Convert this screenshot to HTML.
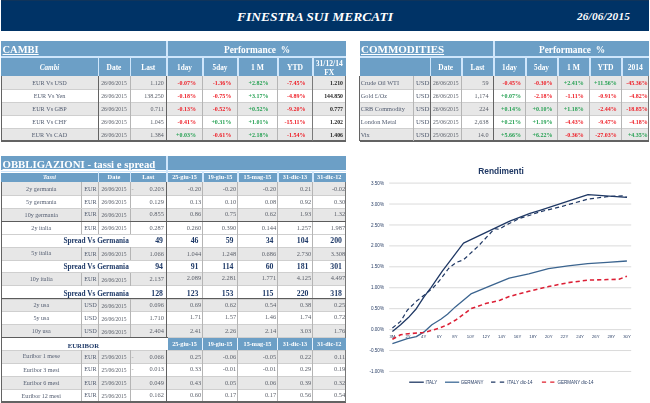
<!DOCTYPE html>
<html><head><meta charset="utf-8"><title>Finestra sui mercati</title>
<style>
html,body{margin:0;padding:0;background:#fff;}
body{width:650px;height:403px;position:relative;overflow:hidden;font-family:'Liberation Serif', serif;}
#p div{position:absolute;}
#p{filter:blur(0.35px);}
#p .t{white-space:nowrap;overflow:visible;}
svg{position:absolute;left:0;top:0;}
</style></head><body><div id="p">
<div style="left:1px;top:0px;width:647.6px;height:31.4px;background:#003366;"></div>
<div style="left:1px;top:0px;width:647.6px;height:1.4px;background:#10345a;"></div>
<div class="t" style="left:232px;top:6.8px;width:166px;height:19px;line-height:19px;font-size:13.5px;color:#fff;text-align:center;font-family:'Liberation Serif', serif;font-weight:bold;font-style:italic;">FINESTRA SUI MERCATI</div>
<div class="t" style="left:570px;top:6.9px;width:67px;height:19px;line-height:19px;font-size:11.3px;color:#fff;text-align:center;font-family:'Liberation Serif', serif;font-weight:bold;font-style:italic;letter-spacing:0.15px;">26/06/2015</div>
<div style="left:1px;top:41px;width:165.5px;height:15px;background:#6c9fc6;"></div>
<div style="left:166px;top:41px;width:1.5px;height:17px;background:#cfe6fb;"></div>
<div style="left:168px;top:41px;width:178px;height:15px;background:#6c9fc6;"></div>
<div style="left:1px;top:56px;width:345px;height:1.7px;background:#cfe6fb;"></div>
<div class="t" style="left:2.5px;top:41.9px;width:163.5px;height:16px;line-height:16px;font-size:10.5px;color:#fff;text-align:left;font-family:'Liberation Serif', serif;font-weight:bold;text-decoration:underline;text-decoration-thickness:0.8px;text-underline-offset:0.6px;">CAMBI</div>
<div class="t" style="left:168px;top:41.8px;width:178px;height:16px;line-height:16px;font-size:9.4px;color:#fff;text-align:center;font-family:'Liberation Serif', serif;font-weight:bold;white-space:pre;">Performance  %</div>
<div style="left:1px;top:57.7px;width:345px;height:18px;background:#6c9fc6;"></div>
<div style="left:97.5px;top:56.7px;width:1.6px;height:20px;background:#cfe6fb;"></div>
<div style="left:129.5px;top:56.7px;width:1.6px;height:20px;background:#cfe6fb;"></div>
<div style="left:166px;top:56.7px;width:1.6px;height:20px;background:#cfe6fb;"></div>
<div style="left:202px;top:56.7px;width:1.6px;height:20px;background:#cfe6fb;"></div>
<div style="left:237px;top:56.7px;width:1.6px;height:20px;background:#cfe6fb;"></div>
<div style="left:277px;top:56.7px;width:1.6px;height:20px;background:#cfe6fb;"></div>
<div style="left:312px;top:56.7px;width:1.6px;height:20px;background:#cfe6fb;"></div>
<div style="left:1px;top:75.7px;width:345px;height:0.6px;background:#cfe6fb;"></div>
<div class="t" style="left:1px;top:58.6px;width:97px;height:18px;line-height:18px;font-size:7.2px;color:#fff;text-align:center;font-family:'Liberation Serif', serif;font-weight:bold;font-style:italic;">Cambi</div>
<div class="t" style="left:98px;top:58.6px;width:32px;height:18px;line-height:18px;font-size:7.4px;color:#fff;text-align:center;font-family:'Liberation Serif', serif;font-weight:bold;">Date</div>
<div class="t" style="left:130px;top:58.6px;width:36.5px;height:18px;line-height:18px;font-size:7.4px;color:#fff;text-align:center;font-family:'Liberation Serif', serif;font-weight:bold;">Last</div>
<div class="t" style="left:166.5px;top:58.6px;width:36px;height:18px;line-height:18px;font-size:7.2px;color:#fff;text-align:center;font-family:'Liberation Serif', serif;font-weight:bold;">1day</div>
<div class="t" style="left:202.5px;top:58.6px;width:35px;height:18px;line-height:18px;font-size:7.2px;color:#fff;text-align:center;font-family:'Liberation Serif', serif;font-weight:bold;">5day</div>
<div class="t" style="left:237.5px;top:58.6px;width:40px;height:18px;line-height:18px;font-size:7.6px;color:#fff;text-align:center;font-family:'Liberation Serif', serif;font-weight:bold;">1 M</div>
<div class="t" style="left:277.5px;top:58.6px;width:35px;height:18px;line-height:18px;font-size:7.6px;color:#fff;text-align:center;font-family:'Liberation Serif', serif;font-weight:bold;">YTD</div>
<div class="t" style="left:312.5px;top:58.9px;width:33.5px;height:18px;line-height:9px;font-size:7.6px;color:#fff;text-align:center;font-family:'Liberation Serif', serif;font-weight:bold;">31/12/14<br>FX</div>
<div style="left:1px;top:76.3px;width:345px;height:12.93px;background:#e7e7e7;"></div>
<div class="t" style="left:1px;top:76.9px;width:97px;height:12.93px;line-height:12.93px;font-size:6.2px;color:#525c70;text-align:center;font-family:'Liberation Serif', serif;">EUR Vs USD</div>
<div class="t" style="left:98px;top:76.8px;width:32px;height:12.93px;line-height:12.93px;font-size:5.6px;color:#5c616b;text-align:center;font-family:'Liberation Serif', serif;">26/06/2015</div>
<div class="t" style="left:130px;top:76.9px;width:36.5px;height:12.93px;line-height:12.93px;font-size:6px;color:#5c616b;text-align:right;font-family:'Liberation Serif', serif;padding-right:2.8px;box-sizing:border-box;">1.120</div>
<div class="t" style="left:166.5px;top:77px;width:36px;height:12.93px;line-height:12.93px;font-size:6px;color:#ee1c25;text-align:right;font-family:'Liberation Serif', serif;font-weight:bold;padding-right:6.6px;box-sizing:border-box;">-0.07%</div>
<div class="t" style="left:202.5px;top:77px;width:35px;height:12.93px;line-height:12.93px;font-size:6px;color:#ee1c25;text-align:right;font-family:'Liberation Serif', serif;font-weight:bold;padding-right:6.2px;box-sizing:border-box;">-1.36%</div>
<div class="t" style="left:237.5px;top:77px;width:40px;height:12.93px;line-height:12.93px;font-size:6px;color:#25a052;text-align:right;font-family:'Liberation Serif', serif;font-weight:bold;padding-right:9.1px;box-sizing:border-box;">+2.82%</div>
<div class="t" style="left:277.5px;top:77px;width:35px;height:12.93px;line-height:12.93px;font-size:6px;color:#ee1c25;text-align:right;font-family:'Liberation Serif', serif;font-weight:bold;padding-right:6.9px;box-sizing:border-box;">-7.45%</div>
<div class="t" style="left:312.5px;top:77px;width:33.5px;height:12.93px;line-height:12.93px;font-size:5.8px;color:#222;text-align:right;font-family:'Liberation Serif', serif;font-weight:bold;padding-right:3px;box-sizing:border-box;">1.210</div>
<div class="t" style="left:1px;top:89.83px;width:97px;height:12.93px;line-height:12.93px;font-size:6.2px;color:#525c70;text-align:center;font-family:'Liberation Serif', serif;">EUR Vs Yen</div>
<div class="t" style="left:98px;top:89.73px;width:32px;height:12.93px;line-height:12.93px;font-size:5.6px;color:#5c616b;text-align:center;font-family:'Liberation Serif', serif;">26/06/2015</div>
<div class="t" style="left:130px;top:89.83px;width:36.5px;height:12.93px;line-height:12.93px;font-size:6px;color:#5c616b;text-align:right;font-family:'Liberation Serif', serif;padding-right:2.8px;box-sizing:border-box;">138.250</div>
<div class="t" style="left:166.5px;top:89.93px;width:36px;height:12.93px;line-height:12.93px;font-size:6px;color:#ee1c25;text-align:right;font-family:'Liberation Serif', serif;font-weight:bold;padding-right:6.6px;box-sizing:border-box;">-0.18%</div>
<div class="t" style="left:202.5px;top:89.93px;width:35px;height:12.93px;line-height:12.93px;font-size:6px;color:#ee1c25;text-align:right;font-family:'Liberation Serif', serif;font-weight:bold;padding-right:6.2px;box-sizing:border-box;">-0.75%</div>
<div class="t" style="left:237.5px;top:89.93px;width:40px;height:12.93px;line-height:12.93px;font-size:6px;color:#25a052;text-align:right;font-family:'Liberation Serif', serif;font-weight:bold;padding-right:9.1px;box-sizing:border-box;">+3.17%</div>
<div class="t" style="left:277.5px;top:89.93px;width:35px;height:12.93px;line-height:12.93px;font-size:6px;color:#ee1c25;text-align:right;font-family:'Liberation Serif', serif;font-weight:bold;padding-right:6.9px;box-sizing:border-box;">-4.89%</div>
<div class="t" style="left:312.5px;top:89.93px;width:33.5px;height:12.93px;line-height:12.93px;font-size:5.8px;color:#222;text-align:right;font-family:'Liberation Serif', serif;font-weight:bold;padding-right:3px;box-sizing:border-box;">144.850</div>
<div style="left:1px;top:102.16px;width:345px;height:12.93px;background:#e7e7e7;"></div>
<div class="t" style="left:1px;top:102.76px;width:97px;height:12.93px;line-height:12.93px;font-size:6.2px;color:#525c70;text-align:center;font-family:'Liberation Serif', serif;">EUR Vs GBP</div>
<div class="t" style="left:98px;top:102.66px;width:32px;height:12.93px;line-height:12.93px;font-size:5.6px;color:#5c616b;text-align:center;font-family:'Liberation Serif', serif;">26/06/2015</div>
<div class="t" style="left:130px;top:102.76px;width:36.5px;height:12.93px;line-height:12.93px;font-size:6px;color:#5c616b;text-align:right;font-family:'Liberation Serif', serif;padding-right:2.8px;box-sizing:border-box;">0.711</div>
<div class="t" style="left:166.5px;top:102.86px;width:36px;height:12.93px;line-height:12.93px;font-size:6px;color:#ee1c25;text-align:right;font-family:'Liberation Serif', serif;font-weight:bold;padding-right:6.6px;box-sizing:border-box;">-0.13%</div>
<div class="t" style="left:202.5px;top:102.86px;width:35px;height:12.93px;line-height:12.93px;font-size:6px;color:#ee1c25;text-align:right;font-family:'Liberation Serif', serif;font-weight:bold;padding-right:6.2px;box-sizing:border-box;">-0.52%</div>
<div class="t" style="left:237.5px;top:102.86px;width:40px;height:12.93px;line-height:12.93px;font-size:6px;color:#25a052;text-align:right;font-family:'Liberation Serif', serif;font-weight:bold;padding-right:9.1px;box-sizing:border-box;">+0.52%</div>
<div class="t" style="left:277.5px;top:102.86px;width:35px;height:12.93px;line-height:12.93px;font-size:6px;color:#ee1c25;text-align:right;font-family:'Liberation Serif', serif;font-weight:bold;padding-right:6.9px;box-sizing:border-box;">-9.20%</div>
<div class="t" style="left:312.5px;top:102.86px;width:33.5px;height:12.93px;line-height:12.93px;font-size:5.8px;color:#222;text-align:right;font-family:'Liberation Serif', serif;font-weight:bold;padding-right:3px;box-sizing:border-box;">0.777</div>
<div class="t" style="left:1px;top:115.69px;width:97px;height:12.93px;line-height:12.93px;font-size:6.2px;color:#525c70;text-align:center;font-family:'Liberation Serif', serif;">EUR Vs CHF</div>
<div class="t" style="left:98px;top:115.59px;width:32px;height:12.93px;line-height:12.93px;font-size:5.6px;color:#5c616b;text-align:center;font-family:'Liberation Serif', serif;">26/06/2015</div>
<div class="t" style="left:130px;top:115.69px;width:36.5px;height:12.93px;line-height:12.93px;font-size:6px;color:#5c616b;text-align:right;font-family:'Liberation Serif', serif;padding-right:2.8px;box-sizing:border-box;">1.045</div>
<div class="t" style="left:166.5px;top:115.79px;width:36px;height:12.93px;line-height:12.93px;font-size:6px;color:#ee1c25;text-align:right;font-family:'Liberation Serif', serif;font-weight:bold;padding-right:6.6px;box-sizing:border-box;">-0.41%</div>
<div class="t" style="left:202.5px;top:115.79px;width:35px;height:12.93px;line-height:12.93px;font-size:6px;color:#25a052;text-align:right;font-family:'Liberation Serif', serif;font-weight:bold;padding-right:6.2px;box-sizing:border-box;">+0.31%</div>
<div class="t" style="left:237.5px;top:115.79px;width:40px;height:12.93px;line-height:12.93px;font-size:6px;color:#25a052;text-align:right;font-family:'Liberation Serif', serif;font-weight:bold;padding-right:9.1px;box-sizing:border-box;">+1.01%</div>
<div class="t" style="left:277.5px;top:115.79px;width:35px;height:12.93px;line-height:12.93px;font-size:6px;color:#ee1c25;text-align:right;font-family:'Liberation Serif', serif;font-weight:bold;padding-right:6.9px;box-sizing:border-box;">-15.11%</div>
<div class="t" style="left:312.5px;top:115.79px;width:33.5px;height:12.93px;line-height:12.93px;font-size:5.8px;color:#222;text-align:right;font-family:'Liberation Serif', serif;font-weight:bold;padding-right:3px;box-sizing:border-box;">1.202</div>
<div style="left:1px;top:128.02px;width:345px;height:12.93px;background:#e7e7e7;"></div>
<div class="t" style="left:1px;top:128.62px;width:97px;height:12.93px;line-height:12.93px;font-size:6.2px;color:#525c70;text-align:center;font-family:'Liberation Serif', serif;">EUR Vs CAD</div>
<div class="t" style="left:98px;top:128.52px;width:32px;height:12.93px;line-height:12.93px;font-size:5.6px;color:#5c616b;text-align:center;font-family:'Liberation Serif', serif;">26/06/2015</div>
<div class="t" style="left:130px;top:128.62px;width:36.5px;height:12.93px;line-height:12.93px;font-size:6px;color:#5c616b;text-align:right;font-family:'Liberation Serif', serif;padding-right:2.8px;box-sizing:border-box;">1.384</div>
<div class="t" style="left:166.5px;top:128.72px;width:36px;height:12.93px;line-height:12.93px;font-size:6px;color:#25a052;text-align:right;font-family:'Liberation Serif', serif;font-weight:bold;padding-right:6.6px;box-sizing:border-box;">+0.03%</div>
<div class="t" style="left:202.5px;top:128.72px;width:35px;height:12.93px;line-height:12.93px;font-size:6px;color:#ee1c25;text-align:right;font-family:'Liberation Serif', serif;font-weight:bold;padding-right:6.2px;box-sizing:border-box;">-0.61%</div>
<div class="t" style="left:237.5px;top:128.72px;width:40px;height:12.93px;line-height:12.93px;font-size:6px;color:#25a052;text-align:right;font-family:'Liberation Serif', serif;font-weight:bold;padding-right:9.1px;box-sizing:border-box;">+2.18%</div>
<div class="t" style="left:277.5px;top:128.72px;width:35px;height:12.93px;line-height:12.93px;font-size:6px;color:#ee1c25;text-align:right;font-family:'Liberation Serif', serif;font-weight:bold;padding-right:6.9px;box-sizing:border-box;">-1.54%</div>
<div class="t" style="left:312.5px;top:128.72px;width:33.5px;height:12.93px;line-height:12.93px;font-size:5.8px;color:#222;text-align:right;font-family:'Liberation Serif', serif;font-weight:bold;padding-right:3px;box-sizing:border-box;">1.406</div>
<div style="left:1px;top:88.83px;width:345px;height:0.8px;background:#cfcfcf;"></div>
<div style="left:1px;top:101.76px;width:345px;height:0.8px;background:#cfcfcf;"></div>
<div style="left:1px;top:114.69px;width:345px;height:0.8px;background:#cfcfcf;"></div>
<div style="left:1px;top:127.62px;width:345px;height:0.8px;background:#cfcfcf;"></div>
<div style="left:97.8px;top:76.3px;width:1.2px;height:64.65px;background:#636363;"></div>
<div style="left:129.5px;top:76.3px;width:0.8px;height:64.65px;background:#b5b5b5;"></div>
<div style="left:166.3px;top:76.3px;width:1.2px;height:64.65px;background:#636363;"></div>
<div style="left:202px;top:76.3px;width:0.8px;height:64.65px;background:#b5b5b5;"></div>
<div style="left:237px;top:76.3px;width:0.8px;height:64.65px;background:#b5b5b5;"></div>
<div style="left:277px;top:76.3px;width:0.8px;height:64.65px;background:#b5b5b5;"></div>
<div style="left:312px;top:76.3px;width:0.8px;height:64.65px;background:#b5b5b5;"></div>
<div style="left:0.6px;top:76.3px;width:1.3px;height:64.65px;background:#636363;"></div>
<div style="left:345.2px;top:76.3px;width:1px;height:64.65px;background:#777;"></div>
<div style="left:1px;top:140.35px;width:345px;height:1.2px;background:#636363;"></div>
<div style="left:312.4px;top:76.3px;width:1px;height:64.65px;background:#7a7a7a;"></div>
<div style="left:359.5px;top:41px;width:134px;height:15px;background:#6c9fc6;"></div>
<div style="left:493px;top:41px;width:1.5px;height:17px;background:#cfe6fb;"></div>
<div style="left:495px;top:41px;width:154px;height:15px;background:#6c9fc6;"></div>
<div style="left:359.5px;top:56px;width:289.5px;height:1.7px;background:#cfe6fb;"></div>
<div class="t" style="left:361px;top:41.2px;width:132px;height:16px;line-height:16px;font-size:11px;color:#fff;text-align:left;font-family:'Liberation Serif', serif;font-weight:bold;text-decoration:underline;text-decoration-thickness:0.8px;text-underline-offset:0.6px;">COMMODITIES</div>
<div class="t" style="left:495px;top:41.8px;width:154px;height:16px;line-height:16px;font-size:9.4px;color:#fff;text-align:center;font-family:'Liberation Serif', serif;font-weight:bold;white-space:pre;">Performance  %</div>
<div style="left:359.5px;top:57.7px;width:289.5px;height:18px;background:#6c9fc6;"></div>
<div style="left:429.5px;top:56.7px;width:1.6px;height:20px;background:#cfe6fb;"></div>
<div style="left:461px;top:56.7px;width:1.6px;height:20px;background:#cfe6fb;"></div>
<div style="left:493px;top:56.7px;width:1.6px;height:20px;background:#cfe6fb;"></div>
<div style="left:525px;top:56.7px;width:1.6px;height:20px;background:#cfe6fb;"></div>
<div style="left:557px;top:56.7px;width:1.6px;height:20px;background:#cfe6fb;"></div>
<div style="left:589px;top:56.7px;width:1.6px;height:20px;background:#cfe6fb;"></div>
<div style="left:621px;top:56.7px;width:1.6px;height:20px;background:#cfe6fb;"></div>
<div style="left:359.5px;top:75.7px;width:289.5px;height:0.6px;background:#cfe6fb;"></div>
<div class="t" style="left:430px;top:58.6px;width:31.5px;height:18px;line-height:18px;font-size:7.4px;color:#fff;text-align:center;font-family:'Liberation Serif', serif;font-weight:bold;">Date</div>
<div class="t" style="left:461.5px;top:58.6px;width:32px;height:18px;line-height:18px;font-size:7.4px;color:#fff;text-align:center;font-family:'Liberation Serif', serif;font-weight:bold;">Last</div>
<div class="t" style="left:493.5px;top:58.6px;width:32px;height:18px;line-height:18px;font-size:7.2px;color:#fff;text-align:center;font-family:'Liberation Serif', serif;font-weight:bold;">1day</div>
<div class="t" style="left:525.5px;top:58.6px;width:32px;height:18px;line-height:18px;font-size:7.2px;color:#fff;text-align:center;font-family:'Liberation Serif', serif;font-weight:bold;">5day</div>
<div class="t" style="left:557.5px;top:58.6px;width:32px;height:18px;line-height:18px;font-size:7.6px;color:#fff;text-align:center;font-family:'Liberation Serif', serif;font-weight:bold;">1 M</div>
<div class="t" style="left:589.5px;top:58.6px;width:32px;height:18px;line-height:18px;font-size:7.6px;color:#fff;text-align:center;font-family:'Liberation Serif', serif;font-weight:bold;">YTD</div>
<div class="t" style="left:621.5px;top:58.6px;width:27.5px;height:18px;line-height:18px;font-size:7.6px;color:#fff;text-align:center;font-family:'Liberation Serif', serif;font-weight:bold;">2014</div>
<div style="left:359.5px;top:76.3px;width:289.5px;height:12.93px;background:#e7e7e7;"></div>
<div class="t" style="left:359.5px;top:77.1px;width:53px;height:12.93px;line-height:12.93px;font-size:6.3px;color:#525c70;text-align:left;font-family:'Liberation Serif', serif;padding-left:1.2px;box-sizing:border-box;">Crude Oil WTI</div>
<div class="t" style="left:412.5px;top:77px;width:17.5px;height:12.93px;line-height:12.93px;font-size:6.8px;color:#525c70;text-align:right;font-family:'Liberation Serif', serif;padding-right:0.5px;box-sizing:border-box;">USD</div>
<div class="t" style="left:430px;top:76.8px;width:31.5px;height:12.93px;line-height:12.93px;font-size:5.6px;color:#5c616b;text-align:center;font-family:'Liberation Serif', serif;">26/06/2015</div>
<div class="t" style="left:461.5px;top:76.9px;width:32px;height:12.93px;line-height:12.93px;font-size:6.2px;color:#5c616b;text-align:right;font-family:'Liberation Serif', serif;padding-right:5px;box-sizing:border-box;">59</div>
<div class="t" style="left:493.5px;top:77px;width:32px;height:12.93px;line-height:12.93px;font-size:6px;color:#ee1c25;text-align:right;font-family:'Liberation Serif', serif;font-weight:bold;padding-right:4.6px;box-sizing:border-box;">-0.45%</div>
<div class="t" style="left:525.5px;top:77px;width:32px;height:12.93px;line-height:12.93px;font-size:6px;color:#ee1c25;text-align:right;font-family:'Liberation Serif', serif;font-weight:bold;padding-right:5.1px;box-sizing:border-box;">-0.30%</div>
<div class="t" style="left:557.5px;top:77px;width:32px;height:12.93px;line-height:12.93px;font-size:6px;color:#25a052;text-align:right;font-family:'Liberation Serif', serif;font-weight:bold;padding-right:5.8px;box-sizing:border-box;">+2.41%</div>
<div class="t" style="left:589.5px;top:77px;width:32px;height:12.93px;line-height:12.93px;font-size:6px;color:#25a052;text-align:right;font-family:'Liberation Serif', serif;font-weight:bold;padding-right:4.8px;box-sizing:border-box;">+11.56%</div>
<div class="t" style="left:621.5px;top:77px;width:27.5px;height:12.93px;line-height:12.93px;font-size:6px;color:#ee1c25;text-align:right;font-family:'Liberation Serif', serif;font-weight:bold;padding-right:1.2px;box-sizing:border-box;">-45.36%</div>
<div class="t" style="left:359.5px;top:90.03px;width:53px;height:12.93px;line-height:12.93px;font-size:6.3px;color:#525c70;text-align:left;font-family:'Liberation Serif', serif;padding-left:1.2px;box-sizing:border-box;">Gold £/Oz</div>
<div class="t" style="left:412.5px;top:89.93px;width:17.5px;height:12.93px;line-height:12.93px;font-size:6.8px;color:#525c70;text-align:right;font-family:'Liberation Serif', serif;padding-right:0.5px;box-sizing:border-box;">USD</div>
<div class="t" style="left:430px;top:89.73px;width:31.5px;height:12.93px;line-height:12.93px;font-size:5.6px;color:#5c616b;text-align:center;font-family:'Liberation Serif', serif;">26/06/2015</div>
<div class="t" style="left:461.5px;top:89.83px;width:32px;height:12.93px;line-height:12.93px;font-size:6.2px;color:#5c616b;text-align:right;font-family:'Liberation Serif', serif;padding-right:5px;box-sizing:border-box;">1,174</div>
<div class="t" style="left:493.5px;top:89.93px;width:32px;height:12.93px;line-height:12.93px;font-size:6px;color:#25a052;text-align:right;font-family:'Liberation Serif', serif;font-weight:bold;padding-right:4.6px;box-sizing:border-box;">+0.07%</div>
<div class="t" style="left:525.5px;top:89.93px;width:32px;height:12.93px;line-height:12.93px;font-size:6px;color:#ee1c25;text-align:right;font-family:'Liberation Serif', serif;font-weight:bold;padding-right:5.1px;box-sizing:border-box;">-2.18%</div>
<div class="t" style="left:557.5px;top:89.93px;width:32px;height:12.93px;line-height:12.93px;font-size:6px;color:#ee1c25;text-align:right;font-family:'Liberation Serif', serif;font-weight:bold;padding-right:5.8px;box-sizing:border-box;">-1.11%</div>
<div class="t" style="left:589.5px;top:89.93px;width:32px;height:12.93px;line-height:12.93px;font-size:6px;color:#ee1c25;text-align:right;font-family:'Liberation Serif', serif;font-weight:bold;padding-right:4.8px;box-sizing:border-box;">-0.91%</div>
<div class="t" style="left:621.5px;top:89.93px;width:27.5px;height:12.93px;line-height:12.93px;font-size:6px;color:#ee1c25;text-align:right;font-family:'Liberation Serif', serif;font-weight:bold;padding-right:1.2px;box-sizing:border-box;">-4.82%</div>
<div style="left:359.5px;top:102.16px;width:289.5px;height:12.93px;background:#e7e7e7;"></div>
<div class="t" style="left:359.5px;top:102.96px;width:53px;height:12.93px;line-height:12.93px;font-size:6.3px;color:#525c70;text-align:left;font-family:'Liberation Serif', serif;padding-left:1.2px;box-sizing:border-box;">CRB Commodity</div>
<div class="t" style="left:412.5px;top:102.86px;width:17.5px;height:12.93px;line-height:12.93px;font-size:6.8px;color:#525c70;text-align:right;font-family:'Liberation Serif', serif;padding-right:0.5px;box-sizing:border-box;">USD</div>
<div class="t" style="left:430px;top:102.66px;width:31.5px;height:12.93px;line-height:12.93px;font-size:5.6px;color:#5c616b;text-align:center;font-family:'Liberation Serif', serif;">26/06/2015</div>
<div class="t" style="left:461.5px;top:102.76px;width:32px;height:12.93px;line-height:12.93px;font-size:6.2px;color:#5c616b;text-align:right;font-family:'Liberation Serif', serif;padding-right:5px;box-sizing:border-box;">224</div>
<div class="t" style="left:493.5px;top:102.86px;width:32px;height:12.93px;line-height:12.93px;font-size:6px;color:#25a052;text-align:right;font-family:'Liberation Serif', serif;font-weight:bold;padding-right:4.6px;box-sizing:border-box;">+0.14%</div>
<div class="t" style="left:525.5px;top:102.86px;width:32px;height:12.93px;line-height:12.93px;font-size:6px;color:#25a052;text-align:right;font-family:'Liberation Serif', serif;font-weight:bold;padding-right:5.1px;box-sizing:border-box;">+0.10%</div>
<div class="t" style="left:557.5px;top:102.86px;width:32px;height:12.93px;line-height:12.93px;font-size:6px;color:#25a052;text-align:right;font-family:'Liberation Serif', serif;font-weight:bold;padding-right:5.8px;box-sizing:border-box;">+1.18%</div>
<div class="t" style="left:589.5px;top:102.86px;width:32px;height:12.93px;line-height:12.93px;font-size:6px;color:#ee1c25;text-align:right;font-family:'Liberation Serif', serif;font-weight:bold;padding-right:4.8px;box-sizing:border-box;">-2.44%</div>
<div class="t" style="left:621.5px;top:102.86px;width:27.5px;height:12.93px;line-height:12.93px;font-size:6px;color:#ee1c25;text-align:right;font-family:'Liberation Serif', serif;font-weight:bold;padding-right:1.2px;box-sizing:border-box;">-18.85%</div>
<div class="t" style="left:359.5px;top:115.89px;width:53px;height:12.93px;line-height:12.93px;font-size:6.3px;color:#525c70;text-align:left;font-family:'Liberation Serif', serif;padding-left:1.2px;box-sizing:border-box;">London Metal</div>
<div class="t" style="left:412.5px;top:115.79px;width:17.5px;height:12.93px;line-height:12.93px;font-size:6.8px;color:#525c70;text-align:right;font-family:'Liberation Serif', serif;padding-right:0.5px;box-sizing:border-box;">USD</div>
<div class="t" style="left:430px;top:115.59px;width:31.5px;height:12.93px;line-height:12.93px;font-size:5.6px;color:#5c616b;text-align:center;font-family:'Liberation Serif', serif;">25/06/2015</div>
<div class="t" style="left:461.5px;top:115.69px;width:32px;height:12.93px;line-height:12.93px;font-size:6.2px;color:#5c616b;text-align:right;font-family:'Liberation Serif', serif;padding-right:5px;box-sizing:border-box;">2,638</div>
<div class="t" style="left:493.5px;top:115.79px;width:32px;height:12.93px;line-height:12.93px;font-size:6px;color:#25a052;text-align:right;font-family:'Liberation Serif', serif;font-weight:bold;padding-right:4.6px;box-sizing:border-box;">+0.21%</div>
<div class="t" style="left:525.5px;top:115.79px;width:32px;height:12.93px;line-height:12.93px;font-size:6px;color:#25a052;text-align:right;font-family:'Liberation Serif', serif;font-weight:bold;padding-right:5.1px;box-sizing:border-box;">+1.19%</div>
<div class="t" style="left:557.5px;top:115.79px;width:32px;height:12.93px;line-height:12.93px;font-size:6px;color:#ee1c25;text-align:right;font-family:'Liberation Serif', serif;font-weight:bold;padding-right:5.8px;box-sizing:border-box;">-4.43%</div>
<div class="t" style="left:589.5px;top:115.79px;width:32px;height:12.93px;line-height:12.93px;font-size:6px;color:#ee1c25;text-align:right;font-family:'Liberation Serif', serif;font-weight:bold;padding-right:4.8px;box-sizing:border-box;">-9.47%</div>
<div class="t" style="left:621.5px;top:115.79px;width:27.5px;height:12.93px;line-height:12.93px;font-size:6px;color:#ee1c25;text-align:right;font-family:'Liberation Serif', serif;font-weight:bold;padding-right:1.2px;box-sizing:border-box;">-4.18%</div>
<div style="left:359.5px;top:128.02px;width:289.5px;height:12.93px;background:#e7e7e7;"></div>
<div class="t" style="left:359.5px;top:128.82px;width:53px;height:12.93px;line-height:12.93px;font-size:6.3px;color:#525c70;text-align:left;font-family:'Liberation Serif', serif;padding-left:1.2px;box-sizing:border-box;">Vix</div>
<div class="t" style="left:412.5px;top:128.72px;width:17.5px;height:12.93px;line-height:12.93px;font-size:6.8px;color:#525c70;text-align:right;font-family:'Liberation Serif', serif;padding-right:0.5px;box-sizing:border-box;">USD</div>
<div class="t" style="left:430px;top:128.52px;width:31.5px;height:12.93px;line-height:12.93px;font-size:5.6px;color:#5c616b;text-align:center;font-family:'Liberation Serif', serif;">25/06/2015</div>
<div class="t" style="left:461.5px;top:128.62px;width:32px;height:12.93px;line-height:12.93px;font-size:6.2px;color:#5c616b;text-align:right;font-family:'Liberation Serif', serif;padding-right:5px;box-sizing:border-box;">14.0</div>
<div class="t" style="left:493.5px;top:128.72px;width:32px;height:12.93px;line-height:12.93px;font-size:6px;color:#25a052;text-align:right;font-family:'Liberation Serif', serif;font-weight:bold;padding-right:4.6px;box-sizing:border-box;">+5.66%</div>
<div class="t" style="left:525.5px;top:128.72px;width:32px;height:12.93px;line-height:12.93px;font-size:6px;color:#25a052;text-align:right;font-family:'Liberation Serif', serif;font-weight:bold;padding-right:5.1px;box-sizing:border-box;">+6.22%</div>
<div class="t" style="left:557.5px;top:128.72px;width:32px;height:12.93px;line-height:12.93px;font-size:6px;color:#ee1c25;text-align:right;font-family:'Liberation Serif', serif;font-weight:bold;padding-right:5.8px;box-sizing:border-box;">-0.36%</div>
<div class="t" style="left:589.5px;top:128.72px;width:32px;height:12.93px;line-height:12.93px;font-size:6px;color:#ee1c25;text-align:right;font-family:'Liberation Serif', serif;font-weight:bold;padding-right:4.8px;box-sizing:border-box;">-27.03%</div>
<div class="t" style="left:621.5px;top:128.72px;width:27.5px;height:12.93px;line-height:12.93px;font-size:6px;color:#25a052;text-align:right;font-family:'Liberation Serif', serif;font-weight:bold;padding-right:1.2px;box-sizing:border-box;">+4.35%</div>
<div style="left:359.5px;top:88.83px;width:289.5px;height:0.8px;background:#cfcfcf;"></div>
<div style="left:359.5px;top:101.76px;width:289.5px;height:0.8px;background:#cfcfcf;"></div>
<div style="left:359.5px;top:114.69px;width:289.5px;height:0.8px;background:#cfcfcf;"></div>
<div style="left:359.5px;top:127.62px;width:289.5px;height:0.8px;background:#cfcfcf;"></div>
<div style="left:429.8px;top:76.3px;width:1.2px;height:64.65px;background:#636363;"></div>
<div style="left:461px;top:76.3px;width:0.8px;height:64.65px;background:#b5b5b5;"></div>
<div style="left:493.3px;top:76.3px;width:1.2px;height:64.65px;background:#636363;"></div>
<div style="left:525px;top:76.3px;width:0.8px;height:64.65px;background:#b5b5b5;"></div>
<div style="left:557px;top:76.3px;width:0.8px;height:64.65px;background:#b5b5b5;"></div>
<div style="left:589px;top:76.3px;width:0.8px;height:64.65px;background:#b5b5b5;"></div>
<div style="left:621px;top:76.3px;width:0.8px;height:64.65px;background:#b5b5b5;"></div>
<div style="left:359.1px;top:76.3px;width:1.3px;height:64.65px;background:#636363;"></div>
<div style="left:648.2px;top:76.3px;width:1px;height:64.65px;background:#777;"></div>
<div style="left:359.5px;top:140.35px;width:289.5px;height:1.2px;background:#636363;"></div>
<div style="left:412.5px;top:76.3px;width:0.8px;height:64.65px;background:#b5b5b5;"></div>
<div style="left:1px;top:156.2px;width:165.5px;height:14.3px;background:#6c9fc6;"></div>
<div style="left:166px;top:156.2px;width:1.5px;height:16.3px;background:#cfe6fb;"></div>
<div style="left:168px;top:156.2px;width:178px;height:14.3px;background:#6c9fc6;"></div>
<div style="left:1px;top:170.5px;width:345px;height:1.7px;background:#cfe6fb;"></div>
<div class="t" style="left:2.5px;top:157.1px;width:163.5px;height:15.3px;line-height:15.3px;font-size:10.8px;color:#fff;text-align:left;font-family:'Liberation Serif', serif;font-weight:bold;text-decoration:underline;text-decoration-thickness:0.8px;text-underline-offset:0.6px;">OBBLIGAZIONI - tassi e spread</div>
<div style="left:1px;top:172.5px;width:345px;height:9.6px;background:#6c9fc6;"></div>
<div style="left:97.5px;top:171.5px;width:1.6px;height:11.6px;background:#cfe6fb;"></div>
<div style="left:129.5px;top:171.5px;width:1.6px;height:11.6px;background:#cfe6fb;"></div>
<div style="left:166px;top:171.5px;width:1.6px;height:11.6px;background:#cfe6fb;"></div>
<div style="left:202px;top:171.5px;width:1.6px;height:11.6px;background:#cfe6fb;"></div>
<div style="left:237px;top:171.5px;width:1.6px;height:11.6px;background:#cfe6fb;"></div>
<div style="left:277px;top:171.5px;width:1.6px;height:11.6px;background:#cfe6fb;"></div>
<div style="left:312px;top:171.5px;width:1.6px;height:11.6px;background:#cfe6fb;"></div>
<div style="left:1px;top:182.1px;width:345px;height:0.6px;background:#cfe6fb;"></div>
<div class="t" style="left:1px;top:171.7px;width:97px;height:9.6px;line-height:9.6px;font-size:6.2px;color:#fff;text-align:center;font-family:'Liberation Serif', serif;font-weight:bold;font-style:italic;">Tassi</div>
<div class="t" style="left:98px;top:171.7px;width:32px;height:9.6px;line-height:9.6px;font-size:6.4px;color:#fff;text-align:center;font-family:'Liberation Serif', serif;font-weight:bold;">Date</div>
<div class="t" style="left:130px;top:171.7px;width:36.5px;height:9.6px;line-height:9.6px;font-size:6.4px;color:#fff;text-align:center;font-family:'Liberation Serif', serif;font-weight:bold;">Last</div>
<div class="t" style="left:166.5px;top:171.7px;width:36px;height:9.6px;line-height:9.6px;font-size:6.2px;color:#fff;text-align:center;font-family:'Liberation Serif', serif;font-weight:bold;">25-giu-15</div>
<div class="t" style="left:202.5px;top:171.7px;width:35px;height:9.6px;line-height:9.6px;font-size:6.2px;color:#fff;text-align:center;font-family:'Liberation Serif', serif;font-weight:bold;">19-giu-15</div>
<div class="t" style="left:237.5px;top:171.7px;width:40px;height:9.6px;line-height:9.6px;font-size:6.2px;color:#fff;text-align:center;font-family:'Liberation Serif', serif;font-weight:bold;">15-mag-15</div>
<div class="t" style="left:277.5px;top:171.7px;width:35px;height:9.6px;line-height:9.6px;font-size:6.2px;color:#fff;text-align:center;font-family:'Liberation Serif', serif;font-weight:bold;">31-dic-13</div>
<div class="t" style="left:312.5px;top:171.7px;width:33.5px;height:9.6px;line-height:9.6px;font-size:6.2px;color:#fff;text-align:center;font-family:'Liberation Serif', serif;font-weight:bold;">31-dic-12</div>
<div style="left:1px;top:182.3px;width:345px;height:13.1px;background:#e7e7e7;"></div>
<div class="t" style="left:1px;top:182.7px;width:80.5px;height:13.1px;line-height:13.1px;font-size:6.1px;color:#525c70;text-align:center;font-family:'Liberation Serif', serif;">2y germania</div>
<div class="t" style="left:82.2px;top:182.1px;width:16.5px;height:13.1px;line-height:13.1px;font-size:6.3px;color:#525c70;text-align:center;font-family:'Liberation Serif', serif;">EUR</div>
<div class="t" style="left:98px;top:183.2px;width:32px;height:13.1px;line-height:13.1px;font-size:5.5px;color:#5c616b;text-align:center;font-family:'Liberation Serif', serif;">26/06/2015</div>
<div class="t" style="left:130px;top:182px;width:8px;height:13.1px;line-height:13.1px;font-size:6.4px;color:#999;text-align:left;font-family:'Liberation Serif', serif;padding-left:1.5px;box-sizing:border-box;">-</div>
<div class="t" style="left:130px;top:182px;width:36.5px;height:13.1px;line-height:13.1px;font-size:6.4px;color:#5c616b;text-align:right;font-family:'Liberation Serif', serif;padding-right:2.6px;box-sizing:border-box;">0.203</div>
<div class="t" style="left:166.5px;top:181.9px;width:36px;height:13.1px;line-height:13.1px;font-size:6.4px;color:#5c616b;text-align:right;font-family:'Liberation Serif', serif;padding-right:1.4px;box-sizing:border-box;">-0.20</div>
<div class="t" style="left:202.5px;top:181.9px;width:35px;height:13.1px;line-height:13.1px;font-size:6.4px;color:#5c616b;text-align:right;font-family:'Liberation Serif', serif;padding-right:1.4px;box-sizing:border-box;">-0.20</div>
<div class="t" style="left:237.5px;top:181.9px;width:40px;height:13.1px;line-height:13.1px;font-size:6.4px;color:#5c616b;text-align:right;font-family:'Liberation Serif', serif;padding-right:1.4px;box-sizing:border-box;">-0.20</div>
<div class="t" style="left:277.5px;top:181.9px;width:35px;height:13.1px;line-height:13.1px;font-size:6.4px;color:#5c616b;text-align:right;font-family:'Liberation Serif', serif;padding-right:1.4px;box-sizing:border-box;">0.21</div>
<div class="t" style="left:312.5px;top:181.9px;width:33.5px;height:13.1px;line-height:13.1px;font-size:6.4px;color:#5c616b;text-align:right;font-family:'Liberation Serif', serif;padding-right:0.8px;box-sizing:border-box;">-0.02</div>
<div class="t" style="left:1px;top:195.8px;width:80.5px;height:13.1px;line-height:13.1px;font-size:6.1px;color:#525c70;text-align:center;font-family:'Liberation Serif', serif;">5y germania</div>
<div class="t" style="left:82.2px;top:195.2px;width:16.5px;height:13.1px;line-height:13.1px;font-size:6.3px;color:#525c70;text-align:center;font-family:'Liberation Serif', serif;">EUR</div>
<div class="t" style="left:98px;top:196.3px;width:32px;height:13.1px;line-height:13.1px;font-size:5.5px;color:#5c616b;text-align:center;font-family:'Liberation Serif', serif;">26/06/2015</div>
<div class="t" style="left:130px;top:195.1px;width:36.5px;height:13.1px;line-height:13.1px;font-size:6.4px;color:#5c616b;text-align:right;font-family:'Liberation Serif', serif;padding-right:2.6px;box-sizing:border-box;">0.129</div>
<div class="t" style="left:166.5px;top:195px;width:36px;height:13.1px;line-height:13.1px;font-size:6.4px;color:#5c616b;text-align:right;font-family:'Liberation Serif', serif;padding-right:1.4px;box-sizing:border-box;">0.13</div>
<div class="t" style="left:202.5px;top:195px;width:35px;height:13.1px;line-height:13.1px;font-size:6.4px;color:#5c616b;text-align:right;font-family:'Liberation Serif', serif;padding-right:1.4px;box-sizing:border-box;">0.10</div>
<div class="t" style="left:237.5px;top:195px;width:40px;height:13.1px;line-height:13.1px;font-size:6.4px;color:#5c616b;text-align:right;font-family:'Liberation Serif', serif;padding-right:1.4px;box-sizing:border-box;">0.08</div>
<div class="t" style="left:277.5px;top:195px;width:35px;height:13.1px;line-height:13.1px;font-size:6.4px;color:#5c616b;text-align:right;font-family:'Liberation Serif', serif;padding-right:1.4px;box-sizing:border-box;">0.92</div>
<div class="t" style="left:312.5px;top:195px;width:33.5px;height:13.1px;line-height:13.1px;font-size:6.4px;color:#5c616b;text-align:right;font-family:'Liberation Serif', serif;padding-right:0.8px;box-sizing:border-box;">0.30</div>
<div style="left:1px;top:208.5px;width:345px;height:12.8px;background:#e7e7e7;"></div>
<div class="t" style="left:1px;top:208.9px;width:80.5px;height:12.8px;line-height:12.8px;font-size:6.1px;color:#525c70;text-align:center;font-family:'Liberation Serif', serif;">10y germania</div>
<div class="t" style="left:82.2px;top:208.3px;width:16.5px;height:12.8px;line-height:12.8px;font-size:6.3px;color:#525c70;text-align:center;font-family:'Liberation Serif', serif;">EUR</div>
<div class="t" style="left:98px;top:209.4px;width:32px;height:12.8px;line-height:12.8px;font-size:5.5px;color:#5c616b;text-align:center;font-family:'Liberation Serif', serif;">26/06/2015</div>
<div class="t" style="left:130px;top:208.2px;width:36.5px;height:12.8px;line-height:12.8px;font-size:6.4px;color:#5c616b;text-align:right;font-family:'Liberation Serif', serif;padding-right:2.6px;box-sizing:border-box;">0.855</div>
<div class="t" style="left:166.5px;top:208.1px;width:36px;height:12.8px;line-height:12.8px;font-size:6.4px;color:#5c616b;text-align:right;font-family:'Liberation Serif', serif;padding-right:1.4px;box-sizing:border-box;">0.86</div>
<div class="t" style="left:202.5px;top:208.1px;width:35px;height:12.8px;line-height:12.8px;font-size:6.4px;color:#5c616b;text-align:right;font-family:'Liberation Serif', serif;padding-right:1.4px;box-sizing:border-box;">0.75</div>
<div class="t" style="left:237.5px;top:208.1px;width:40px;height:12.8px;line-height:12.8px;font-size:6.4px;color:#5c616b;text-align:right;font-family:'Liberation Serif', serif;padding-right:1.4px;box-sizing:border-box;">0.62</div>
<div class="t" style="left:277.5px;top:208.1px;width:35px;height:12.8px;line-height:12.8px;font-size:6.4px;color:#5c616b;text-align:right;font-family:'Liberation Serif', serif;padding-right:1.4px;box-sizing:border-box;">1.93</div>
<div class="t" style="left:312.5px;top:208.1px;width:33.5px;height:12.8px;line-height:12.8px;font-size:6.4px;color:#5c616b;text-align:right;font-family:'Liberation Serif', serif;padding-right:0.8px;box-sizing:border-box;">1.32</div>
<div class="t" style="left:1px;top:221.7px;width:80.5px;height:13px;line-height:13px;font-size:6.1px;color:#525c70;text-align:center;font-family:'Liberation Serif', serif;">2y italia</div>
<div class="t" style="left:82.2px;top:221.1px;width:16.5px;height:13px;line-height:13px;font-size:6.3px;color:#525c70;text-align:center;font-family:'Liberation Serif', serif;">EUR</div>
<div class="t" style="left:98px;top:222.2px;width:32px;height:13px;line-height:13px;font-size:5.5px;color:#5c616b;text-align:center;font-family:'Liberation Serif', serif;">26/06/2015</div>
<div class="t" style="left:130px;top:221px;width:36.5px;height:13px;line-height:13px;font-size:6.4px;color:#5c616b;text-align:right;font-family:'Liberation Serif', serif;padding-right:2.6px;box-sizing:border-box;">0.287</div>
<div class="t" style="left:166.5px;top:220.9px;width:36px;height:13px;line-height:13px;font-size:6.4px;color:#5c616b;text-align:right;font-family:'Liberation Serif', serif;padding-right:1.4px;box-sizing:border-box;">0.260</div>
<div class="t" style="left:202.5px;top:220.9px;width:35px;height:13px;line-height:13px;font-size:6.4px;color:#5c616b;text-align:right;font-family:'Liberation Serif', serif;padding-right:1.4px;box-sizing:border-box;">0.390</div>
<div class="t" style="left:237.5px;top:220.9px;width:40px;height:13px;line-height:13px;font-size:6.4px;color:#5c616b;text-align:right;font-family:'Liberation Serif', serif;padding-right:1.4px;box-sizing:border-box;">0.144</div>
<div class="t" style="left:277.5px;top:220.9px;width:35px;height:13px;line-height:13px;font-size:6.4px;color:#5c616b;text-align:right;font-family:'Liberation Serif', serif;padding-right:1.4px;box-sizing:border-box;">1.257</div>
<div class="t" style="left:312.5px;top:220.9px;width:33.5px;height:13px;line-height:13px;font-size:6.4px;color:#5c616b;text-align:right;font-family:'Liberation Serif', serif;padding-right:0.8px;box-sizing:border-box;">1.987</div>
<div class="t" style="left:1px;top:235.3px;width:129px;height:12.6px;line-height:12.6px;font-size:7.3px;color:#1f3a68;text-align:right;font-family:'Liberation Serif', serif;font-weight:bold;padding-right:1.2px;box-sizing:border-box;">Spread Vs Germania</div>
<div class="t" style="left:130px;top:235.1px;width:36.5px;height:12.6px;line-height:12.6px;font-size:7.8px;color:#1f3a68;text-align:right;font-family:'Liberation Serif', serif;font-weight:bold;padding-right:3.5px;box-sizing:border-box;">49</div>
<div class="t" style="left:166.5px;top:235.1px;width:36px;height:12.6px;line-height:12.6px;font-size:7.8px;color:#1f3a68;text-align:right;font-family:'Liberation Serif', serif;font-weight:bold;padding-right:4px;box-sizing:border-box;">46</div>
<div class="t" style="left:202.5px;top:235.1px;width:35px;height:12.6px;line-height:12.6px;font-size:7.8px;color:#1f3a68;text-align:right;font-family:'Liberation Serif', serif;font-weight:bold;padding-right:4px;box-sizing:border-box;">59</div>
<div class="t" style="left:237.5px;top:235.1px;width:40px;height:12.6px;line-height:12.6px;font-size:7.8px;color:#1f3a68;text-align:right;font-family:'Liberation Serif', serif;font-weight:bold;padding-right:4px;box-sizing:border-box;">34</div>
<div class="t" style="left:277.5px;top:235.1px;width:35px;height:12.6px;line-height:12.6px;font-size:7.8px;color:#1f3a68;text-align:right;font-family:'Liberation Serif', serif;font-weight:bold;padding-right:4px;box-sizing:border-box;">104</div>
<div class="t" style="left:312.5px;top:235.1px;width:33.5px;height:12.6px;line-height:12.6px;font-size:7.8px;color:#1f3a68;text-align:right;font-family:'Liberation Serif', serif;font-weight:bold;padding-right:4px;box-sizing:border-box;">200</div>
<div style="left:1px;top:246.9px;width:345px;height:13.1px;background:#e7e7e7;"></div>
<div class="t" style="left:1px;top:247.3px;width:80.5px;height:13.1px;line-height:13.1px;font-size:6.1px;color:#525c70;text-align:center;font-family:'Liberation Serif', serif;">5y italia</div>
<div class="t" style="left:82.2px;top:246.7px;width:16.5px;height:13.1px;line-height:13.1px;font-size:6.3px;color:#525c70;text-align:center;font-family:'Liberation Serif', serif;">EUR</div>
<div class="t" style="left:98px;top:247.8px;width:32px;height:13.1px;line-height:13.1px;font-size:5.5px;color:#5c616b;text-align:center;font-family:'Liberation Serif', serif;">26/06/2015</div>
<div class="t" style="left:130px;top:246.6px;width:36.5px;height:13.1px;line-height:13.1px;font-size:6.4px;color:#5c616b;text-align:right;font-family:'Liberation Serif', serif;padding-right:2.6px;box-sizing:border-box;">1.066</div>
<div class="t" style="left:166.5px;top:246.5px;width:36px;height:13.1px;line-height:13.1px;font-size:6.4px;color:#5c616b;text-align:right;font-family:'Liberation Serif', serif;padding-right:1.4px;box-sizing:border-box;">1.044</div>
<div class="t" style="left:202.5px;top:246.5px;width:35px;height:13.1px;line-height:13.1px;font-size:6.4px;color:#5c616b;text-align:right;font-family:'Liberation Serif', serif;padding-right:1.4px;box-sizing:border-box;">1.248</div>
<div class="t" style="left:237.5px;top:246.5px;width:40px;height:13.1px;line-height:13.1px;font-size:6.4px;color:#5c616b;text-align:right;font-family:'Liberation Serif', serif;padding-right:1.4px;box-sizing:border-box;">0.686</div>
<div class="t" style="left:277.5px;top:246.5px;width:35px;height:13.1px;line-height:13.1px;font-size:6.4px;color:#5c616b;text-align:right;font-family:'Liberation Serif', serif;padding-right:1.4px;box-sizing:border-box;">2.730</div>
<div class="t" style="left:312.5px;top:246.5px;width:33.5px;height:13.1px;line-height:13.1px;font-size:6.4px;color:#5c616b;text-align:right;font-family:'Liberation Serif', serif;padding-right:0.8px;box-sizing:border-box;">3.308</div>
<div class="t" style="left:1px;top:261px;width:129px;height:12.8px;line-height:12.8px;font-size:7.3px;color:#1f3a68;text-align:right;font-family:'Liberation Serif', serif;font-weight:bold;padding-right:1.2px;box-sizing:border-box;">Spread Vs Germania</div>
<div class="t" style="left:130px;top:260.8px;width:36.5px;height:12.8px;line-height:12.8px;font-size:7.8px;color:#1f3a68;text-align:right;font-family:'Liberation Serif', serif;font-weight:bold;padding-right:3.5px;box-sizing:border-box;">94</div>
<div class="t" style="left:166.5px;top:260.8px;width:36px;height:12.8px;line-height:12.8px;font-size:7.8px;color:#1f3a68;text-align:right;font-family:'Liberation Serif', serif;font-weight:bold;padding-right:4px;box-sizing:border-box;">91</div>
<div class="t" style="left:202.5px;top:260.8px;width:35px;height:12.8px;line-height:12.8px;font-size:7.8px;color:#1f3a68;text-align:right;font-family:'Liberation Serif', serif;font-weight:bold;padding-right:4px;box-sizing:border-box;">114</div>
<div class="t" style="left:237.5px;top:260.8px;width:40px;height:12.8px;line-height:12.8px;font-size:7.8px;color:#1f3a68;text-align:right;font-family:'Liberation Serif', serif;font-weight:bold;padding-right:4px;box-sizing:border-box;">60</div>
<div class="t" style="left:277.5px;top:260.8px;width:35px;height:12.8px;line-height:12.8px;font-size:7.8px;color:#1f3a68;text-align:right;font-family:'Liberation Serif', serif;font-weight:bold;padding-right:4px;box-sizing:border-box;">181</div>
<div class="t" style="left:312.5px;top:260.8px;width:33.5px;height:12.8px;line-height:12.8px;font-size:7.8px;color:#1f3a68;text-align:right;font-family:'Liberation Serif', serif;font-weight:bold;padding-right:4px;box-sizing:border-box;">301</div>
<div style="left:1px;top:272.8px;width:345px;height:12.95px;background:#e7e7e7;"></div>
<div class="t" style="left:1px;top:273.2px;width:80.5px;height:12.95px;line-height:12.95px;font-size:6.1px;color:#525c70;text-align:center;font-family:'Liberation Serif', serif;">10y italia</div>
<div class="t" style="left:82.2px;top:272.6px;width:16.5px;height:12.95px;line-height:12.95px;font-size:6.3px;color:#525c70;text-align:center;font-family:'Liberation Serif', serif;">EUR</div>
<div class="t" style="left:98px;top:273.7px;width:32px;height:12.95px;line-height:12.95px;font-size:5.5px;color:#5c616b;text-align:center;font-family:'Liberation Serif', serif;">26/06/2015</div>
<div class="t" style="left:130px;top:272.5px;width:36.5px;height:12.95px;line-height:12.95px;font-size:6.4px;color:#5c616b;text-align:right;font-family:'Liberation Serif', serif;padding-right:2.6px;box-sizing:border-box;">2.137</div>
<div class="t" style="left:166.5px;top:272.4px;width:36px;height:12.95px;line-height:12.95px;font-size:6.4px;color:#5c616b;text-align:right;font-family:'Liberation Serif', serif;padding-right:1.4px;box-sizing:border-box;">2.089</div>
<div class="t" style="left:202.5px;top:272.4px;width:35px;height:12.95px;line-height:12.95px;font-size:6.4px;color:#5c616b;text-align:right;font-family:'Liberation Serif', serif;padding-right:1.4px;box-sizing:border-box;">2.281</div>
<div class="t" style="left:237.5px;top:272.4px;width:40px;height:12.95px;line-height:12.95px;font-size:6.4px;color:#5c616b;text-align:right;font-family:'Liberation Serif', serif;padding-right:1.4px;box-sizing:border-box;">1.771</div>
<div class="t" style="left:277.5px;top:272.4px;width:35px;height:12.95px;line-height:12.95px;font-size:6.4px;color:#5c616b;text-align:right;font-family:'Liberation Serif', serif;padding-right:1.4px;box-sizing:border-box;">4.125</div>
<div class="t" style="left:312.5px;top:272.4px;width:33.5px;height:12.95px;line-height:12.95px;font-size:6.4px;color:#5c616b;text-align:right;font-family:'Liberation Serif', serif;padding-right:0.8px;box-sizing:border-box;">4.497</div>
<div class="t" style="left:1px;top:286.75px;width:129px;height:13.25px;line-height:13.25px;font-size:7.3px;color:#1f3a68;text-align:right;font-family:'Liberation Serif', serif;font-weight:bold;padding-right:1.2px;box-sizing:border-box;">Spread Vs Germania</div>
<div class="t" style="left:130px;top:286.55px;width:36.5px;height:13.25px;line-height:13.25px;font-size:7.8px;color:#1f3a68;text-align:right;font-family:'Liberation Serif', serif;font-weight:bold;padding-right:3.5px;box-sizing:border-box;">128</div>
<div class="t" style="left:166.5px;top:286.55px;width:36px;height:13.25px;line-height:13.25px;font-size:7.8px;color:#1f3a68;text-align:right;font-family:'Liberation Serif', serif;font-weight:bold;padding-right:4px;box-sizing:border-box;">123</div>
<div class="t" style="left:202.5px;top:286.55px;width:35px;height:13.25px;line-height:13.25px;font-size:7.8px;color:#1f3a68;text-align:right;font-family:'Liberation Serif', serif;font-weight:bold;padding-right:4px;box-sizing:border-box;">153</div>
<div class="t" style="left:237.5px;top:286.55px;width:40px;height:13.25px;line-height:13.25px;font-size:7.8px;color:#1f3a68;text-align:right;font-family:'Liberation Serif', serif;font-weight:bold;padding-right:4px;box-sizing:border-box;">115</div>
<div class="t" style="left:277.5px;top:286.55px;width:35px;height:13.25px;line-height:13.25px;font-size:7.8px;color:#1f3a68;text-align:right;font-family:'Liberation Serif', serif;font-weight:bold;padding-right:4px;box-sizing:border-box;">220</div>
<div class="t" style="left:312.5px;top:286.55px;width:33.5px;height:13.25px;line-height:13.25px;font-size:7.8px;color:#1f3a68;text-align:right;font-family:'Liberation Serif', serif;font-weight:bold;padding-right:4px;box-sizing:border-box;">318</div>
<div style="left:1px;top:299px;width:345px;height:12.8px;background:#e7e7e7;"></div>
<div class="t" style="left:1px;top:299.4px;width:80.5px;height:12.8px;line-height:12.8px;font-size:6.1px;color:#525c70;text-align:center;font-family:'Liberation Serif', serif;">2y usa</div>
<div class="t" style="left:82.2px;top:298.8px;width:16.5px;height:12.8px;line-height:12.8px;font-size:6.3px;color:#525c70;text-align:center;font-family:'Liberation Serif', serif;">USD</div>
<div class="t" style="left:98px;top:299.9px;width:32px;height:12.8px;line-height:12.8px;font-size:5.5px;color:#5c616b;text-align:center;font-family:'Liberation Serif', serif;">26/06/2015</div>
<div class="t" style="left:130px;top:298.7px;width:36.5px;height:12.8px;line-height:12.8px;font-size:6.4px;color:#5c616b;text-align:right;font-family:'Liberation Serif', serif;padding-right:2.6px;box-sizing:border-box;">0.696</div>
<div class="t" style="left:166.5px;top:298.6px;width:36px;height:12.8px;line-height:12.8px;font-size:6.4px;color:#5c616b;text-align:right;font-family:'Liberation Serif', serif;padding-right:1.4px;box-sizing:border-box;">0.69</div>
<div class="t" style="left:202.5px;top:298.6px;width:35px;height:12.8px;line-height:12.8px;font-size:6.4px;color:#5c616b;text-align:right;font-family:'Liberation Serif', serif;padding-right:1.4px;box-sizing:border-box;">0.62</div>
<div class="t" style="left:237.5px;top:298.6px;width:40px;height:12.8px;line-height:12.8px;font-size:6.4px;color:#5c616b;text-align:right;font-family:'Liberation Serif', serif;padding-right:1.4px;box-sizing:border-box;">0.54</div>
<div class="t" style="left:277.5px;top:298.6px;width:35px;height:12.8px;line-height:12.8px;font-size:6.4px;color:#5c616b;text-align:right;font-family:'Liberation Serif', serif;padding-right:1.4px;box-sizing:border-box;">0.38</div>
<div class="t" style="left:312.5px;top:298.6px;width:33.5px;height:12.8px;line-height:12.8px;font-size:6.4px;color:#5c616b;text-align:right;font-family:'Liberation Serif', serif;padding-right:0.8px;box-sizing:border-box;">0.25</div>
<div class="t" style="left:1px;top:312.2px;width:80.5px;height:12.8px;line-height:12.8px;font-size:6.1px;color:#525c70;text-align:center;font-family:'Liberation Serif', serif;">5y usa</div>
<div class="t" style="left:82.2px;top:311.6px;width:16.5px;height:12.8px;line-height:12.8px;font-size:6.3px;color:#525c70;text-align:center;font-family:'Liberation Serif', serif;">USD</div>
<div class="t" style="left:98px;top:312.7px;width:32px;height:12.8px;line-height:12.8px;font-size:5.5px;color:#5c616b;text-align:center;font-family:'Liberation Serif', serif;">26/06/2015</div>
<div class="t" style="left:130px;top:311.5px;width:36.5px;height:12.8px;line-height:12.8px;font-size:6.4px;color:#5c616b;text-align:right;font-family:'Liberation Serif', serif;padding-right:2.6px;box-sizing:border-box;">1.710</div>
<div class="t" style="left:166.5px;top:311.4px;width:36px;height:12.8px;line-height:12.8px;font-size:6.4px;color:#5c616b;text-align:right;font-family:'Liberation Serif', serif;padding-right:1.4px;box-sizing:border-box;">1.71</div>
<div class="t" style="left:202.5px;top:311.4px;width:35px;height:12.8px;line-height:12.8px;font-size:6.4px;color:#5c616b;text-align:right;font-family:'Liberation Serif', serif;padding-right:1.4px;box-sizing:border-box;">1.57</div>
<div class="t" style="left:237.5px;top:311.4px;width:40px;height:12.8px;line-height:12.8px;font-size:6.4px;color:#5c616b;text-align:right;font-family:'Liberation Serif', serif;padding-right:1.4px;box-sizing:border-box;">1.46</div>
<div class="t" style="left:277.5px;top:311.4px;width:35px;height:12.8px;line-height:12.8px;font-size:6.4px;color:#5c616b;text-align:right;font-family:'Liberation Serif', serif;padding-right:1.4px;box-sizing:border-box;">1.74</div>
<div class="t" style="left:312.5px;top:311.4px;width:33.5px;height:12.8px;line-height:12.8px;font-size:6.4px;color:#5c616b;text-align:right;font-family:'Liberation Serif', serif;padding-right:0.8px;box-sizing:border-box;">0.72</div>
<div style="left:1px;top:324.6px;width:345px;height:13px;background:#e7e7e7;"></div>
<div class="t" style="left:1px;top:325px;width:80.5px;height:13px;line-height:13px;font-size:6.1px;color:#525c70;text-align:center;font-family:'Liberation Serif', serif;">10y usa</div>
<div class="t" style="left:82.2px;top:324.4px;width:16.5px;height:13px;line-height:13px;font-size:6.3px;color:#525c70;text-align:center;font-family:'Liberation Serif', serif;">USD</div>
<div class="t" style="left:98px;top:325.5px;width:32px;height:13px;line-height:13px;font-size:5.5px;color:#5c616b;text-align:center;font-family:'Liberation Serif', serif;">26/06/2015</div>
<div class="t" style="left:130px;top:324.3px;width:36.5px;height:13px;line-height:13px;font-size:6.4px;color:#5c616b;text-align:right;font-family:'Liberation Serif', serif;padding-right:2.6px;box-sizing:border-box;">2.404</div>
<div class="t" style="left:166.5px;top:324.2px;width:36px;height:13px;line-height:13px;font-size:6.4px;color:#5c616b;text-align:right;font-family:'Liberation Serif', serif;padding-right:1.4px;box-sizing:border-box;">2.41</div>
<div class="t" style="left:202.5px;top:324.2px;width:35px;height:13px;line-height:13px;font-size:6.4px;color:#5c616b;text-align:right;font-family:'Liberation Serif', serif;padding-right:1.4px;box-sizing:border-box;">2.26</div>
<div class="t" style="left:237.5px;top:324.2px;width:40px;height:13px;line-height:13px;font-size:6.4px;color:#5c616b;text-align:right;font-family:'Liberation Serif', serif;padding-right:1.4px;box-sizing:border-box;">2.14</div>
<div class="t" style="left:277.5px;top:324.2px;width:35px;height:13px;line-height:13px;font-size:6.4px;color:#5c616b;text-align:right;font-family:'Liberation Serif', serif;padding-right:1.4px;box-sizing:border-box;">3.03</div>
<div class="t" style="left:312.5px;top:324.2px;width:33.5px;height:13px;line-height:13px;font-size:6.4px;color:#5c616b;text-align:right;font-family:'Liberation Serif', serif;padding-right:0.8px;box-sizing:border-box;">1.76</div>
<div class="t" style="left:1px;top:339.8px;width:99px;height:12.3px;line-height:12.3px;font-size:6.7px;color:#1f3a68;text-align:right;font-family:'Liberation Serif', serif;font-weight:bold;padding-right:1px;box-sizing:border-box;">EURIBOR</div>
<div style="left:1px;top:349.9px;width:345px;height:13.4px;background:#e7e7e7;"></div>
<div class="t" style="left:1px;top:350.3px;width:80.5px;height:13.4px;line-height:13.4px;font-size:6.1px;color:#525c70;text-align:center;font-family:'Liberation Serif', serif;">Euribor 1 mese</div>
<div class="t" style="left:82.2px;top:349.7px;width:16.5px;height:13.4px;line-height:13.4px;font-size:6.3px;color:#525c70;text-align:center;font-family:'Liberation Serif', serif;">EUR</div>
<div class="t" style="left:98px;top:350.8px;width:32px;height:13.4px;line-height:13.4px;font-size:5.5px;color:#5c616b;text-align:center;font-family:'Liberation Serif', serif;">25/06/2015</div>
<div class="t" style="left:130px;top:349.6px;width:8px;height:13.4px;line-height:13.4px;font-size:6.4px;color:#999;text-align:left;font-family:'Liberation Serif', serif;padding-left:1.5px;box-sizing:border-box;">-</div>
<div class="t" style="left:130px;top:349.6px;width:36.5px;height:13.4px;line-height:13.4px;font-size:6.4px;color:#5c616b;text-align:right;font-family:'Liberation Serif', serif;padding-right:2.6px;box-sizing:border-box;">0.066</div>
<div class="t" style="left:166.5px;top:349.5px;width:36px;height:13.4px;line-height:13.4px;font-size:6.4px;color:#5c616b;text-align:right;font-family:'Liberation Serif', serif;padding-right:1.4px;box-sizing:border-box;">0.25</div>
<div class="t" style="left:202.5px;top:349.5px;width:35px;height:13.4px;line-height:13.4px;font-size:6.4px;color:#5c616b;text-align:right;font-family:'Liberation Serif', serif;padding-right:1.4px;box-sizing:border-box;">-0.06</div>
<div class="t" style="left:237.5px;top:349.5px;width:40px;height:13.4px;line-height:13.4px;font-size:6.4px;color:#5c616b;text-align:right;font-family:'Liberation Serif', serif;padding-right:1.4px;box-sizing:border-box;">-0.05</div>
<div class="t" style="left:277.5px;top:349.5px;width:35px;height:13.4px;line-height:13.4px;font-size:6.4px;color:#5c616b;text-align:right;font-family:'Liberation Serif', serif;padding-right:1.4px;box-sizing:border-box;">0.22</div>
<div class="t" style="left:312.5px;top:349.5px;width:33.5px;height:13.4px;line-height:13.4px;font-size:6.4px;color:#5c616b;text-align:right;font-family:'Liberation Serif', serif;padding-right:0.8px;box-sizing:border-box;">0.11</div>
<div class="t" style="left:1px;top:363.7px;width:80.5px;height:12.8px;line-height:12.8px;font-size:6.1px;color:#525c70;text-align:center;font-family:'Liberation Serif', serif;">Euribor 3 mesi</div>
<div class="t" style="left:82.2px;top:363.1px;width:16.5px;height:12.8px;line-height:12.8px;font-size:6.3px;color:#525c70;text-align:center;font-family:'Liberation Serif', serif;">EUR</div>
<div class="t" style="left:98px;top:364.2px;width:32px;height:12.8px;line-height:12.8px;font-size:5.5px;color:#5c616b;text-align:center;font-family:'Liberation Serif', serif;">25/06/2015</div>
<div class="t" style="left:130px;top:363px;width:8px;height:12.8px;line-height:12.8px;font-size:6.4px;color:#999;text-align:left;font-family:'Liberation Serif', serif;padding-left:1.5px;box-sizing:border-box;">-</div>
<div class="t" style="left:130px;top:363px;width:36.5px;height:12.8px;line-height:12.8px;font-size:6.4px;color:#5c616b;text-align:right;font-family:'Liberation Serif', serif;padding-right:2.6px;box-sizing:border-box;">0.013</div>
<div class="t" style="left:166.5px;top:362.9px;width:36px;height:12.8px;line-height:12.8px;font-size:6.4px;color:#5c616b;text-align:right;font-family:'Liberation Serif', serif;padding-right:1.4px;box-sizing:border-box;">0.33</div>
<div class="t" style="left:202.5px;top:362.9px;width:35px;height:12.8px;line-height:12.8px;font-size:6.4px;color:#5c616b;text-align:right;font-family:'Liberation Serif', serif;padding-right:1.4px;box-sizing:border-box;">-0.01</div>
<div class="t" style="left:237.5px;top:362.9px;width:40px;height:12.8px;line-height:12.8px;font-size:6.4px;color:#5c616b;text-align:right;font-family:'Liberation Serif', serif;padding-right:1.4px;box-sizing:border-box;">-0.01</div>
<div class="t" style="left:277.5px;top:362.9px;width:35px;height:12.8px;line-height:12.8px;font-size:6.4px;color:#5c616b;text-align:right;font-family:'Liberation Serif', serif;padding-right:1.4px;box-sizing:border-box;">0.29</div>
<div class="t" style="left:312.5px;top:362.9px;width:33.5px;height:12.8px;line-height:12.8px;font-size:6.4px;color:#5c616b;text-align:right;font-family:'Liberation Serif', serif;padding-right:0.8px;box-sizing:border-box;">0.19</div>
<div style="left:1px;top:376.1px;width:345px;height:13.1px;background:#e7e7e7;"></div>
<div class="t" style="left:1px;top:376.5px;width:80.5px;height:13.1px;line-height:13.1px;font-size:6.1px;color:#525c70;text-align:center;font-family:'Liberation Serif', serif;">Euribor 6 mesi</div>
<div class="t" style="left:82.2px;top:375.9px;width:16.5px;height:13.1px;line-height:13.1px;font-size:6.3px;color:#525c70;text-align:center;font-family:'Liberation Serif', serif;">EUR</div>
<div class="t" style="left:98px;top:377px;width:32px;height:13.1px;line-height:13.1px;font-size:5.5px;color:#5c616b;text-align:center;font-family:'Liberation Serif', serif;">25/06/2015</div>
<div class="t" style="left:130px;top:375.8px;width:36.5px;height:13.1px;line-height:13.1px;font-size:6.4px;color:#5c616b;text-align:right;font-family:'Liberation Serif', serif;padding-right:2.6px;box-sizing:border-box;">0.049</div>
<div class="t" style="left:166.5px;top:375.7px;width:36px;height:13.1px;line-height:13.1px;font-size:6.4px;color:#5c616b;text-align:right;font-family:'Liberation Serif', serif;padding-right:1.4px;box-sizing:border-box;">0.43</div>
<div class="t" style="left:202.5px;top:375.7px;width:35px;height:13.1px;line-height:13.1px;font-size:6.4px;color:#5c616b;text-align:right;font-family:'Liberation Serif', serif;padding-right:1.4px;box-sizing:border-box;">0.05</div>
<div class="t" style="left:237.5px;top:375.7px;width:40px;height:13.1px;line-height:13.1px;font-size:6.4px;color:#5c616b;text-align:right;font-family:'Liberation Serif', serif;padding-right:1.4px;box-sizing:border-box;">0.06</div>
<div class="t" style="left:277.5px;top:375.7px;width:35px;height:13.1px;line-height:13.1px;font-size:6.4px;color:#5c616b;text-align:right;font-family:'Liberation Serif', serif;padding-right:1.4px;box-sizing:border-box;">0.39</div>
<div class="t" style="left:312.5px;top:375.7px;width:33.5px;height:13.1px;line-height:13.1px;font-size:6.4px;color:#5c616b;text-align:right;font-family:'Liberation Serif', serif;padding-right:0.8px;box-sizing:border-box;">0.32</div>
<div class="t" style="left:1px;top:389.6px;width:80.5px;height:12.5px;line-height:12.5px;font-size:6.1px;color:#525c70;text-align:center;font-family:'Liberation Serif', serif;">Euribor 12 mesi</div>
<div class="t" style="left:82.2px;top:389px;width:16.5px;height:12.5px;line-height:12.5px;font-size:6.3px;color:#525c70;text-align:center;font-family:'Liberation Serif', serif;">EUR</div>
<div class="t" style="left:98px;top:390.1px;width:32px;height:12.5px;line-height:12.5px;font-size:5.5px;color:#5c616b;text-align:center;font-family:'Liberation Serif', serif;">25/06/2015</div>
<div class="t" style="left:130px;top:388.9px;width:36.5px;height:12.5px;line-height:12.5px;font-size:6.4px;color:#5c616b;text-align:right;font-family:'Liberation Serif', serif;padding-right:2.6px;box-sizing:border-box;">0.162</div>
<div class="t" style="left:166.5px;top:388.8px;width:36px;height:12.5px;line-height:12.5px;font-size:6.4px;color:#5c616b;text-align:right;font-family:'Liberation Serif', serif;padding-right:1.4px;box-sizing:border-box;">0.60</div>
<div class="t" style="left:202.5px;top:388.8px;width:35px;height:12.5px;line-height:12.5px;font-size:6.4px;color:#5c616b;text-align:right;font-family:'Liberation Serif', serif;padding-right:1.4px;box-sizing:border-box;">0.17</div>
<div class="t" style="left:237.5px;top:388.8px;width:40px;height:12.5px;line-height:12.5px;font-size:6.4px;color:#5c616b;text-align:right;font-family:'Liberation Serif', serif;padding-right:1.4px;box-sizing:border-box;">0.17</div>
<div class="t" style="left:277.5px;top:388.8px;width:35px;height:12.5px;line-height:12.5px;font-size:6.4px;color:#5c616b;text-align:right;font-family:'Liberation Serif', serif;padding-right:1.4px;box-sizing:border-box;">0.56</div>
<div class="t" style="left:312.5px;top:388.8px;width:33.5px;height:12.5px;line-height:12.5px;font-size:6.4px;color:#5c616b;text-align:right;font-family:'Liberation Serif', serif;padding-right:0.8px;box-sizing:border-box;">0.54</div>
<div style="left:1px;top:195px;width:345px;height:0.8px;background:#cfcfcf;"></div>
<div style="left:1px;top:208.1px;width:345px;height:0.8px;background:#cfcfcf;"></div>
<div style="left:1px;top:220.9px;width:345px;height:0.8px;background:#cfcfcf;"></div>
<div style="left:1px;top:233.9px;width:345px;height:0.8px;background:#cfcfcf;"></div>
<div style="left:1px;top:246.5px;width:345px;height:0.8px;background:#cfcfcf;"></div>
<div style="left:1px;top:259.6px;width:345px;height:0.8px;background:#cfcfcf;"></div>
<div style="left:1px;top:272.4px;width:345px;height:0.8px;background:#cfcfcf;"></div>
<div style="left:1px;top:285.35px;width:345px;height:0.8px;background:#cfcfcf;"></div>
<div style="left:1px;top:298.6px;width:345px;height:0.8px;background:#cfcfcf;"></div>
<div style="left:1px;top:311.4px;width:345px;height:0.8px;background:#cfcfcf;"></div>
<div style="left:1px;top:324.2px;width:345px;height:0.8px;background:#cfcfcf;"></div>
<div style="left:1px;top:337.2px;width:345px;height:0.8px;background:#cfcfcf;"></div>
<div style="left:1px;top:349.5px;width:345px;height:0.8px;background:#cfcfcf;"></div>
<div style="left:1px;top:362.9px;width:345px;height:0.8px;background:#cfcfcf;"></div>
<div style="left:1px;top:375.7px;width:345px;height:0.8px;background:#cfcfcf;"></div>
<div style="left:1px;top:388.8px;width:345px;height:0.8px;background:#cfcfcf;"></div>
<div style="left:81.2px;top:182.3px;width:0.8px;height:13.1px;background:#b5b5b5;"></div>
<div style="left:97.6px;top:182.3px;width:0.8px;height:13.1px;background:#b5b5b5;"></div>
<div style="left:129.6px;top:182.3px;width:0.8px;height:13.1px;background:#b5b5b5;"></div>
<div style="left:81.2px;top:195.4px;width:0.8px;height:13.1px;background:#b5b5b5;"></div>
<div style="left:97.6px;top:195.4px;width:0.8px;height:13.1px;background:#b5b5b5;"></div>
<div style="left:129.6px;top:195.4px;width:0.8px;height:13.1px;background:#b5b5b5;"></div>
<div style="left:81.2px;top:208.5px;width:0.8px;height:12.8px;background:#b5b5b5;"></div>
<div style="left:97.6px;top:208.5px;width:0.8px;height:12.8px;background:#b5b5b5;"></div>
<div style="left:129.6px;top:208.5px;width:0.8px;height:12.8px;background:#b5b5b5;"></div>
<div style="left:81.2px;top:221.3px;width:0.8px;height:13px;background:#b5b5b5;"></div>
<div style="left:97.6px;top:221.3px;width:0.8px;height:13px;background:#b5b5b5;"></div>
<div style="left:129.6px;top:221.3px;width:0.8px;height:13px;background:#b5b5b5;"></div>
<div style="left:81.2px;top:246.9px;width:0.8px;height:13.1px;background:#b5b5b5;"></div>
<div style="left:97.6px;top:246.9px;width:0.8px;height:13.1px;background:#b5b5b5;"></div>
<div style="left:129.6px;top:246.9px;width:0.8px;height:13.1px;background:#b5b5b5;"></div>
<div style="left:81.2px;top:272.8px;width:0.8px;height:12.95px;background:#b5b5b5;"></div>
<div style="left:97.6px;top:272.8px;width:0.8px;height:12.95px;background:#b5b5b5;"></div>
<div style="left:129.6px;top:272.8px;width:0.8px;height:12.95px;background:#b5b5b5;"></div>
<div style="left:81.2px;top:299px;width:0.8px;height:12.8px;background:#b5b5b5;"></div>
<div style="left:97.6px;top:299px;width:0.8px;height:12.8px;background:#b5b5b5;"></div>
<div style="left:129.6px;top:299px;width:0.8px;height:12.8px;background:#b5b5b5;"></div>
<div style="left:81.2px;top:311.8px;width:0.8px;height:12.8px;background:#b5b5b5;"></div>
<div style="left:97.6px;top:311.8px;width:0.8px;height:12.8px;background:#b5b5b5;"></div>
<div style="left:129.6px;top:311.8px;width:0.8px;height:12.8px;background:#b5b5b5;"></div>
<div style="left:81.2px;top:324.6px;width:0.8px;height:13px;background:#b5b5b5;"></div>
<div style="left:97.6px;top:324.6px;width:0.8px;height:13px;background:#b5b5b5;"></div>
<div style="left:129.6px;top:324.6px;width:0.8px;height:13px;background:#b5b5b5;"></div>
<div style="left:81.2px;top:349.9px;width:0.8px;height:13.4px;background:#b5b5b5;"></div>
<div style="left:97.6px;top:349.9px;width:0.8px;height:13.4px;background:#b5b5b5;"></div>
<div style="left:129.6px;top:349.9px;width:0.8px;height:13.4px;background:#b5b5b5;"></div>
<div style="left:81.2px;top:363.3px;width:0.8px;height:12.8px;background:#b5b5b5;"></div>
<div style="left:97.6px;top:363.3px;width:0.8px;height:12.8px;background:#b5b5b5;"></div>
<div style="left:129.6px;top:363.3px;width:0.8px;height:12.8px;background:#b5b5b5;"></div>
<div style="left:81.2px;top:376.1px;width:0.8px;height:13.1px;background:#b5b5b5;"></div>
<div style="left:97.6px;top:376.1px;width:0.8px;height:13.1px;background:#b5b5b5;"></div>
<div style="left:129.6px;top:376.1px;width:0.8px;height:13.1px;background:#b5b5b5;"></div>
<div style="left:81.2px;top:389.2px;width:0.8px;height:12.5px;background:#b5b5b5;"></div>
<div style="left:97.6px;top:389.2px;width:0.8px;height:12.5px;background:#b5b5b5;"></div>
<div style="left:129.6px;top:389.2px;width:0.8px;height:12.5px;background:#b5b5b5;"></div>
<div style="left:201.9px;top:182.3px;width:0.8px;height:219.4px;background:#b5b5b5;"></div>
<div style="left:236.9px;top:182.3px;width:0.8px;height:219.4px;background:#b5b5b5;"></div>
<div style="left:276.9px;top:182.3px;width:0.8px;height:219.4px;background:#b5b5b5;"></div>
<div style="left:311.9px;top:182.3px;width:0.8px;height:219.4px;background:#b5b5b5;"></div>
<div style="left:0.6px;top:182.3px;width:1.3px;height:219.4px;background:#636363;"></div>
<div style="left:0.6px;top:401.3px;width:345.4px;height:1.7px;background:#636363;"></div>
<div style="left:166.4px;top:182.3px;width:1px;height:155.3px;background:#606060;"></div>
<div style="left:166.4px;top:349.9px;width:1px;height:51.8px;background:#606060;"></div>
<div style="left:345.2px;top:182.3px;width:1px;height:219.4px;background:#777;"></div>
<div style="left:1px;top:220.6px;width:345px;height:1.2px;background:#5c5c5c;"></div>
<div style="left:1px;top:298.3px;width:345px;height:1.2px;background:#5c5c5c;"></div>
<div style="left:1px;top:336.9px;width:166.5px;height:1.2px;background:#5c5c5c;"></div>
<div style="left:167.5px;top:338.3px;width:178.5px;height:11.4px;background:#6c9fc6;"></div>
<div style="left:202.1px;top:337.6px;width:1.2px;height:12.3px;background:#e6f2fd;"></div>
<div style="left:237.1px;top:337.6px;width:1.2px;height:12.3px;background:#e6f2fd;"></div>
<div style="left:277.1px;top:337.6px;width:1.2px;height:12.3px;background:#e6f2fd;"></div>
<div style="left:312.1px;top:337.6px;width:1.2px;height:12.3px;background:#e6f2fd;"></div>
<div class="t" style="left:166.5px;top:338px;width:36px;height:12.3px;line-height:12.3px;font-size:6.2px;color:#fff;text-align:center;font-family:'Liberation Serif', serif;font-weight:bold;">25-giu-15</div>
<div class="t" style="left:202.5px;top:338px;width:35px;height:12.3px;line-height:12.3px;font-size:6.2px;color:#fff;text-align:center;font-family:'Liberation Serif', serif;font-weight:bold;">19-giu-15</div>
<div class="t" style="left:237.5px;top:338px;width:40px;height:12.3px;line-height:12.3px;font-size:6.2px;color:#fff;text-align:center;font-family:'Liberation Serif', serif;font-weight:bold;">15-mag-15</div>
<div class="t" style="left:277.5px;top:338px;width:35px;height:12.3px;line-height:12.3px;font-size:6.2px;color:#fff;text-align:center;font-family:'Liberation Serif', serif;font-weight:bold;">31-dic-13</div>
<div class="t" style="left:312.5px;top:338px;width:33.5px;height:12.3px;line-height:12.3px;font-size:6.2px;color:#fff;text-align:center;font-family:'Liberation Serif', serif;font-weight:bold;">31-dic-12</div>
<svg width="650" height="403" viewBox="0 0 650 403">
<line x1="389.2" y1="183.1" x2="631.2" y2="183.1" stroke="#d6d6d6" stroke-width="0.9"/>
<text x="384" y="184.7" text-anchor="end" font-size="4.6" fill="#2a3f66" font-family="'Liberation Sans', sans-serif">3.50%</text>
<line x1="389.2" y1="204.03" x2="631.2" y2="204.03" stroke="#d6d6d6" stroke-width="0.9"/>
<text x="384" y="205.63" text-anchor="end" font-size="4.6" fill="#2a3f66" font-family="'Liberation Sans', sans-serif">3.00%</text>
<line x1="389.2" y1="224.96" x2="631.2" y2="224.96" stroke="#d6d6d6" stroke-width="0.9"/>
<text x="384" y="226.56" text-anchor="end" font-size="4.6" fill="#2a3f66" font-family="'Liberation Sans', sans-serif">2.50%</text>
<line x1="389.2" y1="245.89" x2="631.2" y2="245.89" stroke="#d6d6d6" stroke-width="0.9"/>
<text x="384" y="247.49" text-anchor="end" font-size="4.6" fill="#2a3f66" font-family="'Liberation Sans', sans-serif">2.00%</text>
<line x1="389.2" y1="266.81" x2="631.2" y2="266.81" stroke="#d6d6d6" stroke-width="0.9"/>
<text x="384" y="268.41" text-anchor="end" font-size="4.6" fill="#2a3f66" font-family="'Liberation Sans', sans-serif">1.50%</text>
<line x1="389.2" y1="287.74" x2="631.2" y2="287.74" stroke="#d6d6d6" stroke-width="0.9"/>
<text x="384" y="289.34" text-anchor="end" font-size="4.6" fill="#2a3f66" font-family="'Liberation Sans', sans-serif">1.00%</text>
<line x1="389.2" y1="308.67" x2="631.2" y2="308.67" stroke="#d6d6d6" stroke-width="0.9"/>
<text x="384" y="310.27" text-anchor="end" font-size="4.6" fill="#2a3f66" font-family="'Liberation Sans', sans-serif">0.50%</text>
<line x1="389.2" y1="329.6" x2="631.2" y2="329.6" stroke="#d6d6d6" stroke-width="0.9"/>
<text x="384" y="331.2" text-anchor="end" font-size="4.6" fill="#2a3f66" font-family="'Liberation Sans', sans-serif">0.00%</text>
<line x1="389.2" y1="350.53" x2="631.2" y2="350.53" stroke="#d6d6d6" stroke-width="0.9"/>
<text x="384" y="352.13" text-anchor="end" font-size="4.6" fill="#2a3f66" font-family="'Liberation Sans', sans-serif">-0.50%</text>
<line x1="389.2" y1="371.46" x2="631.2" y2="371.46" stroke="#d6d6d6" stroke-width="0.9"/>
<text x="384" y="373.06" text-anchor="end" font-size="4.6" fill="#2a3f66" font-family="'Liberation Sans', sans-serif">-1.00%</text>
<text x="392.4" y="338" text-anchor="middle" font-size="4.3" fill="#2a3f66" font-family="'Liberation Sans', sans-serif">3M</text>
<text x="408.04" y="338" text-anchor="middle" font-size="4.3" fill="#2a3f66" font-family="'Liberation Sans', sans-serif">2Y</text>
<text x="423.68" y="338" text-anchor="middle" font-size="4.3" fill="#2a3f66" font-family="'Liberation Sans', sans-serif">4Y</text>
<text x="439.32" y="338" text-anchor="middle" font-size="4.3" fill="#2a3f66" font-family="'Liberation Sans', sans-serif">6Y</text>
<text x="454.96" y="338" text-anchor="middle" font-size="4.3" fill="#2a3f66" font-family="'Liberation Sans', sans-serif">8Y</text>
<text x="470.6" y="338" text-anchor="middle" font-size="4.3" fill="#2a3f66" font-family="'Liberation Sans', sans-serif">10Y</text>
<text x="486.24" y="338" text-anchor="middle" font-size="4.3" fill="#2a3f66" font-family="'Liberation Sans', sans-serif">12Y</text>
<text x="501.88" y="338" text-anchor="middle" font-size="4.3" fill="#2a3f66" font-family="'Liberation Sans', sans-serif">14Y</text>
<text x="517.52" y="338" text-anchor="middle" font-size="4.3" fill="#2a3f66" font-family="'Liberation Sans', sans-serif">16Y</text>
<text x="533.16" y="338" text-anchor="middle" font-size="4.3" fill="#2a3f66" font-family="'Liberation Sans', sans-serif">18Y</text>
<text x="548.8" y="338" text-anchor="middle" font-size="4.3" fill="#2a3f66" font-family="'Liberation Sans', sans-serif">20Y</text>
<text x="564.44" y="338" text-anchor="middle" font-size="4.3" fill="#2a3f66" font-family="'Liberation Sans', sans-serif">22Y</text>
<text x="580.08" y="338" text-anchor="middle" font-size="4.3" fill="#2a3f66" font-family="'Liberation Sans', sans-serif">24Y</text>
<text x="595.72" y="338" text-anchor="middle" font-size="4.3" fill="#2a3f66" font-family="'Liberation Sans', sans-serif">26Y</text>
<text x="611.36" y="338" text-anchor="middle" font-size="4.3" fill="#2a3f66" font-family="'Liberation Sans', sans-serif">28Y</text>
<text x="627" y="338" text-anchor="middle" font-size="4.3" fill="#2a3f66" font-family="'Liberation Sans', sans-serif">30Y</text>
<polyline points="392.4,343.7 407.3,338.6 416.3,336.6 424,331.9 431.9,324.7 440.8,319.2 447.5,314.2 455.3,306.9 470.9,293.9 489.6,286.1 509.2,278.2 528.8,273.8 548.5,268.6 568,265.8 587.7,263.6 607.3,262.3 626.9,261" fill="none" stroke="#3b648f" stroke-width="1.3" stroke-linejoin="round"/>
<polyline points="392.4,339.2 400.6,334.8 408.4,333.7 424,332.5 431.9,330.3 440.8,327.6 447.5,324.7 455.3,320.3 463.1,314.7 470.9,308.7 485.7,303.6 500,300.2 509.2,296.5 528.8,291.3 548.5,286.6 568,282.7 587.7,280.1 607.3,279.6 619,279.3 626.9,276.2" fill="none" stroke="#dc1f35" stroke-width="1.55" stroke-linejoin="round" stroke-dasharray="4.2,3"/>
<polyline points="392.4,328 400.6,321.4 407.3,310.2 416.3,301.3 424,295.3 433,287.9 440.8,279 448.6,268.5 456,262.5 463.5,259.8 478,246.4 494.7,228.6 499,229.3 505.9,225.2 519.3,218.5 530,215.2 540,211.8 562.3,206.3 588,199.1 607,196.7 622.6,195.8 627,197.3" fill="none" stroke="#1f3864" stroke-width="1.2" stroke-linejoin="round" stroke-dasharray="4.2,3"/>
<polyline points="392.4,331.4 400.6,324.7 408.4,317.6 416.3,308.7 424,296.8 431.2,287.3 442.3,271.2 453.5,256.3 463.5,243.2 510.4,220.8 530,213.4 540,210.3 588,194.6 627,197.3" fill="none" stroke="#1f3864" stroke-width="1.3" stroke-linejoin="round"/>
<line x1="409.2" y1="382.2" x2="423.8" y2="382.2" stroke="#1f3864" stroke-width="1.3"/>
<text x="425.4" y="383.9" font-size="4.5" fill="#2a3f66" font-family="'Liberation Sans', sans-serif">ITALY</text>
<line x1="445" y1="382.2" x2="459.2" y2="382.2" stroke="#3d6a96" stroke-width="1.3"/>
<text x="460.8" y="383.9" font-size="4.5" fill="#2a3f66" font-family="'Liberation Sans', sans-serif">GERMANY</text>
<line x1="491" y1="382.2" x2="504.2" y2="382.2" stroke="#1f3864" stroke-width="1.3" stroke-dasharray="4.4,4.4"/>
<text x="507.2" y="383.9" font-size="4.5" fill="#2a3f66" font-family="'Liberation Sans', sans-serif">ITALY dic-14</text>
<line x1="541.9" y1="382.2" x2="554.4" y2="382.2" stroke="#e01f2d" stroke-width="1.3" stroke-dasharray="4.2,4.1"/>
<text x="557.4" y="383.9" font-size="4.5" fill="#2a3f66" font-family="'Liberation Sans', sans-serif">GERMANY dic-14</text>
<text x="501" y="173.8" text-anchor="middle" font-size="8.4" font-weight="bold" fill="#1f3864" font-family="'Liberation Sans', sans-serif">Rendimenti</text>
</svg>
</div></body></html>
